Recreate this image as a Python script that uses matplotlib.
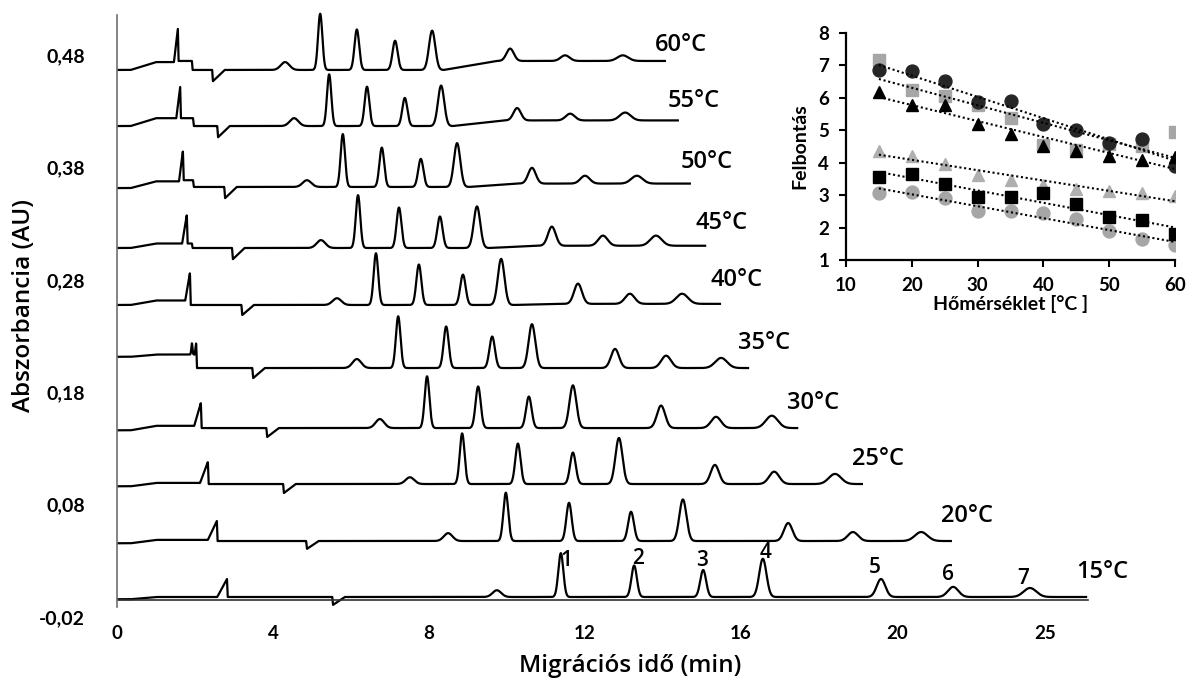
import numpy as np
import matplotlib
matplotlib.use("Agg")
import matplotlib.pyplot as plt

plt.rcParams['font.family'] = ['Lato', 'DejaVu Sans']

# ---------------- electropherograms (time in min, signal in AU / mAU) ----------------
temps = [60, 55, 50, 45, 40, 35, 30, 25, 20, 15]
baseline_au = [0.4667, 0.4168, 0.3626, 0.3083, 0.2576, 0.2015, 0.1481, 0.0983, 0.0476, -0.0022]
run_end_min = [14.05, 14.38, 14.69, 15.08, 15.46, 16.18, 17.44, 19.10, 21.38, 24.85]
start_mau = [0, 0, -1, 0, 0, 10, -2, -2, -2, -2]
pre_mau = [7, 7, 5, 4, 4, 12, 2, 1, 1, 0]
sys_peak_min = [1.56, 1.62, 1.69, 1.79, 1.87, 2.03, 2.15, 2.33, 2.56, 2.82]
sys_peak_mau = [36.5, 34.7, 32.0, 29.4, 28.5, 22.3, 22.3, 19.6, 17.8, 16.0]
step_mau = [8, 7, 6, 4, 0, 0, 0, 0, 0, 0]
step_end_min = [1.92, 1.95, 1.95, 1.92, 1.91, 2.07, 2.19, 2.37, 2.60, 2.86]
dip_min = [2.46, 2.59, 2.77, 2.97, 3.21, 3.49, 3.85, 4.28, 4.87, 5.54]
dip_mau = [10, 10, 10, 10, 9, 9, 8, 8, 7, 7]
late_drift_mau = [8, 5, 3, 2, 1, 0, 0, 0, 0, 0]
hump_min = [4.31, 4.54, 4.87, 5.23, 5.64, 6.15, 6.74, 7.51, 8.49, 9.74]
hump_mau = [7, 7, 6, 7, 6, 8, 8, 6, 7, 6]
split_spike_min = 1.92   # extra spike of the 35 C run
split_spike_mau = 10

# migration times of analytes 1..7 for each temperature (rows follow `temps`)
migration_min = [
    [5.21, 6.15, 7.13, 8.08, 10.08, 11.49, 12.97],
    [5.44, 6.41, 7.38, 8.31, 10.26, 11.62, 13.03],
    [5.79, 6.79, 7.79, 8.72, 10.64, 12.00, 13.33],
    [6.18, 7.23, 8.28, 9.23, 11.15, 12.46, 13.82],
    [6.64, 7.74, 8.87, 9.85, 11.82, 13.15, 14.49],
    [7.21, 8.44, 9.62, 10.64, 12.77, 14.08, 15.49],
    [7.95, 9.26, 10.56, 11.69, 13.95, 15.36, 16.79],
    [8.85, 10.28, 11.69, 12.87, 15.33, 16.85, 18.41],
    [9.97, 11.59, 13.18, 14.51, 17.21, 18.87, 20.62],
    [11.38, 13.26, 15.03, 16.56, 19.59, 21.44, 23.41],
]
peak_height_mau = [
    [50, 36, 26, 35, 11, 5, 5],
    [46, 35, 25, 36, 11, 6, 7],
    [47, 35, 25, 39, 14, 7, 7],
    [47, 36, 28, 37, 17, 9, 9],
    [46, 36, 27, 41, 18, 9, 9],
    [46, 37, 28, 39, 17, 11, 9],
    [46, 37, 28, 38, 20, 10, 11],
    [45, 36, 28, 41, 17, 11, 9],
    [43, 34, 26, 37, 16, 8, 8],
    [39, 28, 24, 34, 16, 9, 8],
]
peak_labels = ['1', '2', '3', '4', '5', '6', '7']

x_tick_pos = [0, 4, 8, 12, 16, 20, 23.8]
x_tick_labels = ['0', '4', '8', '12', '16', '20', '25']
y_tick_vals = [-0.02, 0.08, 0.18, 0.28, 0.38, 0.48]
y_tick_labels = ['-0,02', '0,08', '0,18', '0,28', '0,38', '0,48']

# ---------------- inset: resolution vs temperature ----------------
inset_temp = [15, 20, 25, 30, 35, 40, 45, 50, 55, 60]
res_dark_circle = [6.85, 6.83, 6.51, 5.87, 5.90, 5.18, 5.01, 4.60, 4.74, 3.89]
res_gray_square = [7.18, 6.25, 6.07, 5.77, 5.38, 4.55, 4.40, 4.58, 4.53, 4.94]
res_black_tri = [6.18, 5.77, 5.77, 5.20, 4.89, 4.53, 4.35, 4.22, 4.07, 4.17]
res_gray_tri = [4.37, 4.22, 3.96, 3.63, 3.47, 3.30, 3.19, 3.12, 3.06, 2.98]
res_black_square = [3.55, 3.65, 3.35, 2.95, 2.95, 3.06, 2.73, 2.32, 2.23, 1.80]
res_gray_circle = [3.06, 3.09, 2.91, 2.52, 2.52, 2.44, 2.26, 1.90, 1.65, 1.47]

# ---------------- styling / layout ----------------
W, H = 1193, 679
fig = plt.figure(figsize=(W / 100, H / 100), dpi=100)
label_font = ['Open Sans', 'DejaVu Sans']

px_per_min = 39.0
px_per_au = 1124.0
x_max = 25.0
ax_left, ax_bottom, ax_top = 117, 617, 12
y_min = -0.02
y_max = y_min + (ax_bottom - ax_top) / px_per_au
ax = fig.add_axes([ax_left / W, 1 - ax_bottom / H, x_max * px_per_min / W, (ax_bottom - ax_top) / H])
ax.set_xlim(0, x_max)
ax.set_ylim(y_min, y_max)

sys_rise = [0.10, 0.10, 0.10, 0.12, 0.12, 0.04, 0.17, 0.20, 0.23, 0.25]
peak_sigma = [0.055, 0.06, 0.065, 0.08, 0.095, 0.115, 0.14]
width_scale = [1.0, 1.0, 1.02, 1.04, 1.06, 1.08, 1.1, 1.12, 1.14, 1.16]


def gauss(t, mu, s):
    return np.exp(-0.5 * ((t - mu) / s) ** 2)


for i, T in enumerate(temps):
    t = np.arange(0, run_end_min[i] + 1e-9, 0.004)
    mt = migration_min[i]
    kt = [0, 0.35, 1.0, sys_peak_min[i] - sys_rise[i], sys_peak_min[i], sys_peak_min[i] + 0.02,
          step_end_min[i], step_end_min[i] + 0.02, dip_min[i] - 0.02, dip_min[i], dip_min[i] + 0.3,
          mt[3] + 0.3, mt[4] - 0.35, run_end_min[i]]
    ky = [start_mau[i], start_mau[i], pre_mau[i], pre_mau[i], sys_peak_mau[i], step_mau[i],
          step_mau[i], 0, 0, -dip_mau[i], 0, 0, late_drift_mau[i], late_drift_mau[i]]
    sig = np.interp(t, kt, ky)
    sig += hump_mau[i] * gauss(t, hump_min[i], 0.11)
    for k in range(7):
        sig += peak_height_mau[i][k] * gauss(t, mt[k], peak_sigma[k] * width_scale[i])
    if T == 35:
        sig += split_spike_mau * gauss(t, split_spike_min, 0.015)
    y = baseline_au[i] + sig / 1000.0
    ax.plot(t, y, color='black', lw=1.6, solid_joinstyle='round')
    ax.text(run_end_min[i] - 0.25, baseline_au[i] + 0.022, f"{T}°C", fontsize=17,
            family=label_font, fontweight='semibold', ha='left', va='center', color='black')

# peak numbers on the 15 C run
num_offsets = [(6, -7), (4, 7), (-1, 10), (3, 6), (-6, 12), (-5, 12), (-7, 10)]
i15 = temps.index(15)
for k, lab in enumerate(peak_labels):
    top = baseline_au[i15] + peak_height_mau[i15][k] / 1000.0
    ax.annotate(lab, xy=(migration_min[i15][k], top), xytext=num_offsets[k],
                textcoords='offset pixels', ha='center', va='center', fontsize=15,
                family=label_font, fontweight='semibold')

# axes decoration
for s in ['top', 'right', 'bottom']:
    ax.spines[s].set_visible(False)
ax.spines['left'].set_color('#707070')
ax.spines['left'].set_linewidth(1.2)
ax.spines['left'].set_bounds(-0.011, 0.5156)
ax.axhline(-0.005, xmin=0, xmax=24.9 / x_max, color='#303030', lw=1.2)

ax.set_xticks(x_tick_pos)
ax.set_xticklabels(x_tick_labels, fontsize=13.5, fontweight='bold')
ax.set_yticks(y_tick_vals)
ax.set_yticklabels(y_tick_labels, fontsize=14, fontweight='bold')
ax.tick_params(axis='x', length=0, pad=6)
ax.tick_params(axis='y', length=0, pad=23)
ax.set_xlabel('Migrációs idő (min)', fontsize=17.5, family=label_font, fontweight='semibold')
ax.set_ylabel('Abszorbancia (AU)', fontsize=17.5, family=label_font, fontweight='semibold')
ax.xaxis.label.set_va('center')
ax.yaxis.label.set_va('center')
ax.xaxis.set_label_coords((630 - ax_left) / (x_max * px_per_min), -(666 - ax_bottom) / (ax_bottom - ax_top))
ax.yaxis.set_label_coords(-(ax_left - 24) / (x_max * px_per_min), (ax_bottom - 306) / (ax_bottom - ax_top))

# ---------------- inset ----------------
ix0, ix1, iy0, iy1 = 846, 1175, 33, 260
axi = fig.add_axes([ix0 / W, 1 - iy1 / H, (ix1 - ix0) / W, (iy1 - iy0) / H])
axi.set_xlim(10, 60)
axi.set_ylim(1, 8)
series = [
    (res_gray_square, 's', '#a6a6a6'),
    (res_gray_tri, '^', '#afafaf'),
    (res_gray_circle, 'o', '#a6a6a6'),
    (res_dark_circle, 'o', '#262626'),
    (res_black_tri, '^', '#000000'),
    (res_black_square, 's', '#000000'),
]
xt = np.array(inset_temp, dtype=float)
for vals, mk, col in series:
    axi.plot(inset_temp, vals, linestyle='none', marker=mk, markersize=9.3,
             markerfacecolor=col, markeredgecolor=col, zorder=3)
for vals, mk, col in series:
    a, b = np.polyfit(xt, np.array(vals), 1)
    xx = np.array([15, 60])
    axi.plot(xx, a * xx + b, linestyle=(0, (1, 1.3)), color='black', lw=1.5, zorder=4)

axi.set_xticks([10, 20, 30, 40, 50, 60])
axi.set_yticks([1, 2, 3, 4, 5, 6, 7, 8])
axi.tick_params(direction='out', length=5, width=1.5, labelsize=13.5, pad=7)
for lab in axi.get_xticklabels() + axi.get_yticklabels():
    lab.set_fontweight('bold')
for s in ['top', 'right']:
    axi.spines[s].set_visible(False)
for s in ['left', 'bottom']:
    axi.spines[s].set_linewidth(1.6)
axi.set_xlabel('Hőmérséklet [°C ]', fontsize=14, fontweight='bold', labelpad=1)
axi.set_ylabel('Felbontás', fontsize=14, fontweight='bold', labelpad=7)
axi.set_facecolor('none')

fig.savefig('out.png', dpi=100)
